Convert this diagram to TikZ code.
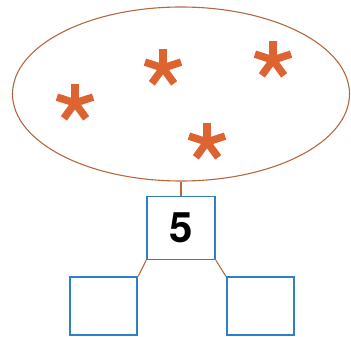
\documentclass[tikz,border=0pt]{standalone}
\usepackage{fontspec}
\setsansfont{TeX Gyre Heros}
\usetikzlibrary{positioning,shapes.geometric}
\definecolor{setbrown}{HTML}{B5683F}
\definecolor{starorange}{HTML}{DD6430}
\definecolor{boxblue}{HTML}{2F80C8}
\tikzstyle{setline} = [draw=setbrown,
                       line width=1.1pt]
\tikzstyle{numbox}  = [draw=boxblue,
                       line width=1.7pt,
                       fill=white]
\tikzstyle{arm}     = [draw=starorange,
                       line width=7.5pt]

\begin{document}
\begin{tikzpicture}[x=1pt,y=-1pt]
  \useasboundingbox (0,0) rectangle (351,337);

  % Set
  \node[setline, ellipse, minimum width=337pt, minimum height=174pt] (set) at (181,94) {};

  % Stars
  \coordinate (s1) at (75,103);
  \coordinate (s2) at (163,68);
  \coordinate (s3) at (273,60);
  \coordinate (s4) at (207,142);
  \foreach \s in {s1,s2,s3,s4}
    \foreach \a in {-90,-18,54,126,198}
      \draw[arm] (\s) -- ++(\a:19);

  % Boxes
  \node[numbox, minimum width=68pt, minimum height=63pt, below=14pt of set]
    (whole) {\sffamily\bfseries\fontsize{42}{42}\selectfont 5};
  \node[numbox, minimum width=67pt, minimum height=58pt,
    below left=16pt and 8pt of whole.south west, anchor=north east] (left) {};
  \node[numbox, minimum width=67pt, minimum height=58pt,
    below right=16pt and 10pt of whole.south east, anchor=north west] (right) {};

  % Edges
  \draw[setline] (set.south) -- (whole.north);
  \draw[setline] (whole.south west) -- (left.north east);
  \draw[setline] (whole.south east) -- (right.north west);

\end{tikzpicture}
\end{document}
